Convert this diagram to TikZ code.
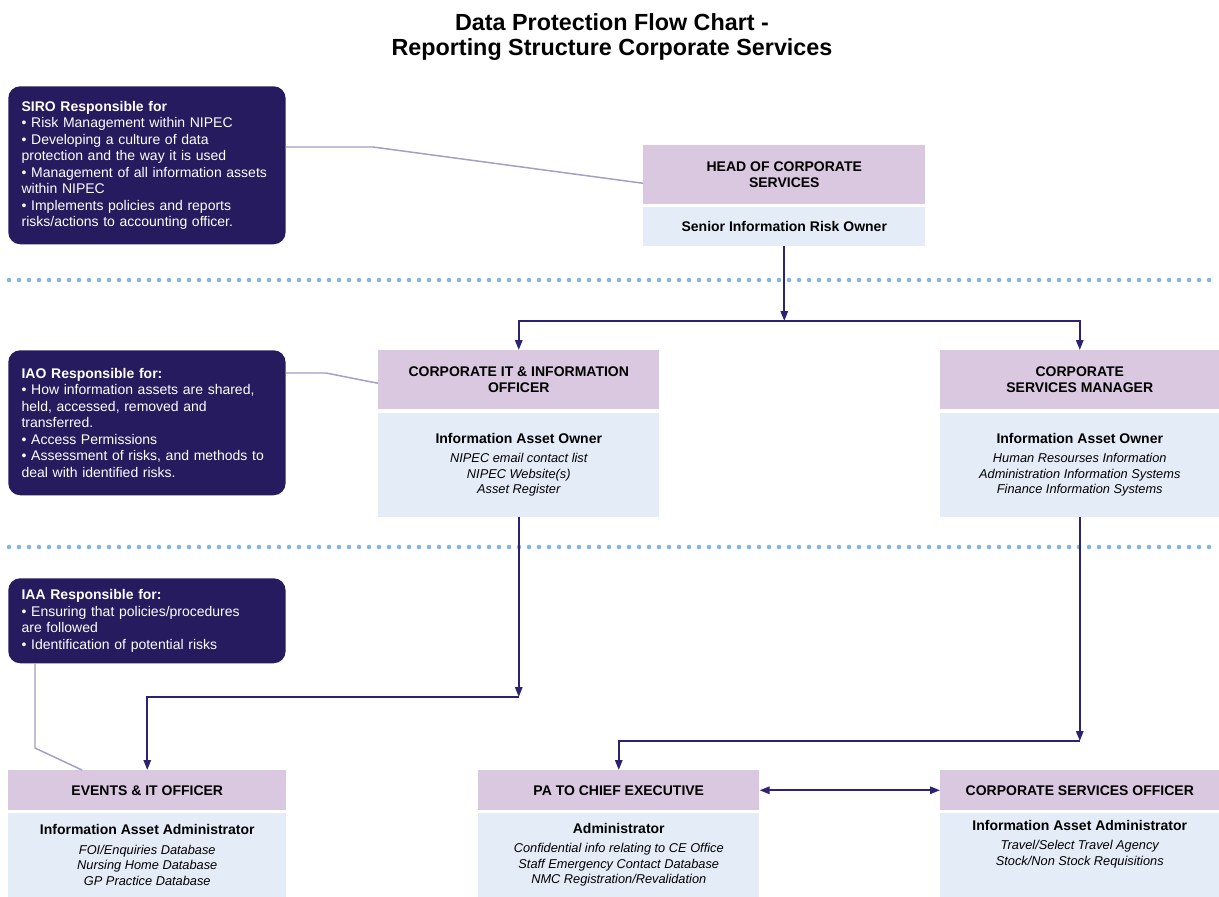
\documentclass[tikz,border=0pt]{standalone}
\usepackage{fontspec}
\setmainfont{Liberation Sans}
\usepackage{tikz}
\usetikzlibrary{arrows.meta, shapes, positioning, calc}

\definecolor{navy}{RGB}{38,27,94}
\definecolor{flowblue}{RGB}{43,35,114}
\definecolor{headpurple}{RGB}{217,200,224}
\definecolor{bodyblue}{RGB}{228,236,248}
\definecolor{dotblue}{RGB}{130,180,230}
\definecolor{notegray}{RGB}{162,158,196}

\tikzset{
    rolebox/.style={fill=headpurple, anchor=north west, align=center, inner sep=0pt,
                    font=\fontsize{10.5}{12.5}\selectfont\bfseries},
    dutybox/.style={fill=bodyblue, align=center, inner sep=0pt,
                    font=\fontsize{9.6}{11.6}\selectfont\itshape},
    notebox/.style={fill=navy, text=white, rounded corners=9pt, anchor=north west,
                    align=left, text width=188pt, inner xsep=10pt, inner ysep=0pt,
                    font=\fontsize{10.5}{12.4}\selectfont},
    sepline/.style={draw=dotblue, line width=3.4pt, line cap=round, dash pattern=on 0pt off 7.5pt}
}

\newcommand{\assetlist}[2]{{\fontsize{10.5}{12}\selectfont\upshape\bfseries #1}\\[3pt]#2}

\begin{document}
\begin{tikzpicture}[x=0.75pt, y=-0.75pt]
            \useasboundingbox (0,0) rectangle (1219,896);

            \node[font=\fontsize{17.5}{19}\selectfont\bfseries, align=center] (title) at (612,37)
                {Data Protection Flow Chart -\\Reporting Structure Corporate Services};

            \begin{scope}[every node/.style={notebox}]
                \node[minimum height=118.5pt] (siro) at (8,86) {\textbf{SIRO Responsible for}\\
                    • Risk Management within NIPEC\\
                    • Developing a culture of data\\
                    protection and the way it is used\\
                    • Management of all information assets\\
                    within NIPEC\\
                    • Implements policies and reports\\
                    risks/actions to accounting officer.};
                \node[minimum height=108.75pt] (iao) at (8,350) {\textbf{IAO Responsible for:}\\
                    • How information assets are shared,\\
                    held, accessed, removed and\\
                    transferred.\\
                    • Access Permissions\\
                    • Assessment of risks, and methods to\\
                    deal with identified risks.};
                \node[minimum height=63.75pt] (iaa) at (8,578) {\textbf{IAA Responsible for:}\\
                    • Ensuring that policies/procedures\\
                    are followed\\
                    • Identification of potential risks};
            \end{scope}

            \begin{scope}[every node/.style={rolebox}]
                \node[minimum width=211.5pt, minimum height=44.25pt] (hcs) at (643,145) {HEAD OF CORPORATE\\SERVICES};
                \node[minimum width=210.75pt, minimum height=44.25pt] (cit) at (378,350) {CORPORATE IT \& INFORMATION\\OFFICER};
                \node[minimum width=209.25pt, minimum height=44.25pt] (csm) at (940,350) {CORPORATE\\SERVICES MANAGER};
                \node[minimum width=208.5pt, minimum height=30pt] (eit) at (8,770) {EVENTS \& IT OFFICER};
                \node[minimum width=210.75pt, minimum height=30pt] (pa) at (478,770) {PA TO CHIEF EXECUTIVE};
                \node[minimum width=209.25pt, minimum height=30pt] (cso) at (940,770) {CORPORATE SERVICES OFFICER};
            \end{scope}

            \begin{scope}[every node/.style={dutybox}]
                \node[below=1.5pt of hcs, minimum width=211.5pt, minimum height=29.25pt] (hcsduty)
                    {\fontsize{10.5}{12}\selectfont\upshape\bfseries Senior Information Risk Owner};
                \node[below=2.25pt of cit, minimum width=210.75pt, minimum height=78pt] (citduty)
                    {\assetlist{Information Asset Owner}{NIPEC email contact list\\NIPEC Website(s)\\Asset Register}};
                \node[below=2.25pt of csm, minimum width=209.25pt, minimum height=78pt] (csmduty)
                    {\assetlist{Information Asset Owner}{Human Resourses Information\\Administration Information Systems\\Finance Information Systems}};
                \node[below=1.5pt of eit, minimum width=208.5pt, minimum height=63pt] (eitduty)
                    {\assetlist{Information Asset Administrator}{FOI/Enquiries Database\\Nursing Home Database\\GP Practice Database}};
                \node[below=1.5pt of pa, minimum width=210.75pt, minimum height=63pt] (paduty)
                    {\assetlist{Administrator}{Confidential info relating to CE Office\\Staff Emergency Contact Database\\NMC Registration/Revalidation}};
                \node[below=1.5pt of cso, minimum width=209.25pt, minimum height=63pt, text depth=18.5pt] (csoduty)
                    {\assetlist{Information Asset Administrator}{Travel/Select Travel Agency\\Stock/Non Stock Requisitions}};
            \end{scope}

            \coordinate (sepAw) at (9,280);
            \coordinate (sepAe) at (1219,280);
            \coordinate (sepBw) at (9,547);
            \coordinate (sepBe) at (1219,547);
            \path[sepline] (sepAw) -- (sepAe);
            \path[sepline] (sepBw) -- (sepBe);

            \coordinate (split) at (hcsduty.south |- 0,321);
            \coordinate (itjoin) at (citduty.south |- 0,697);
            \coordinate (csjoin) at (csmduty.south |- 0,741);

            \begin{scope}[draw=notegray, line width=1.1pt]
                \draw ($(siro.north east)+(0,61)$) -- (373,147) -- ($(hcs.west)+(0,8.5)$);
                \draw ($(iao.north east)+(0,23)$) -- (326,373) -- ($(cit.west)+(0,3.5)$);
                \draw ($(iaa.south west)+(27,0)$) -- (35,748) -- ($(eit.north west)+(74,0)$);
            \end{scope}

            \begin{scope}[>={Triangle[length=7.5pt,width=5.5pt]},
                          every edge/.style={draw=flowblue, line width=1.4pt}]
                 \path[->] (hcsduty.south) edge (split);
                 \draw[->, draw=flowblue, line width=1.4pt] (split) -| (cit);
                 \draw[->, draw=flowblue, line width=1.4pt] (split) -| (csm);
                 \path[->] (citduty.south) edge (itjoin);
                 \draw[->, draw=flowblue, line width=1.4pt] (itjoin) -| (eit);
                 \path[->] (csmduty.south) edge (csjoin);
                 \draw[->, draw=flowblue, line width=1.4pt] (csjoin) -| (pa);
                 \path[<->] (pa) edge (cso);
            \end{scope}
\end{tikzpicture}
\end{document}
